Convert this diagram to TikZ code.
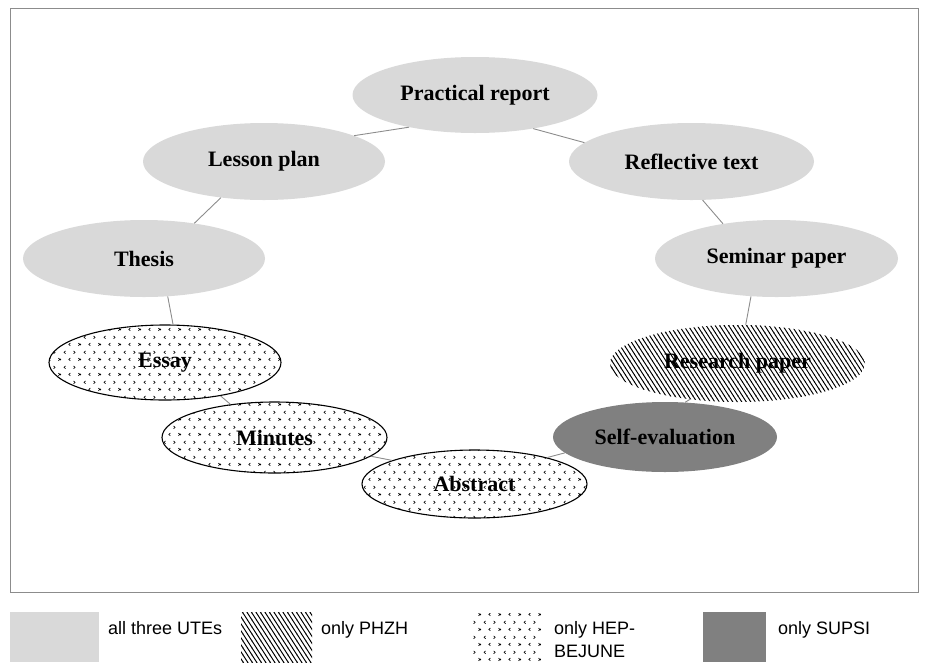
\documentclass[tikz,border=0pt]{standalone}
\usepackage{fontspec}
\setmainfont{Liberation Serif}
\newfontfamily\legfont{Liberation Sans}
\usetikzlibrary{shapes.geometric,patterns}

\definecolor{lightgr}{HTML}{D9D9D9}
\definecolor{darkgr}{HTML}{808080}
\definecolor{linegr}{HTML}{8C8C8C}

% steep hatching for PHZH
\pgfdeclarepatternformonly{steephatch}{\pgfqpoint{-1pt}{-1pt}}{\pgfqpoint{5.5pt}{8pt}}{\pgfqpoint{4.5pt}{7pt}}{%
  \pgfsetlinewidth{0.95pt}
  \pgfpathmoveto{\pgfqpoint{-0.3pt}{7.47pt}}
  \pgfpathlineto{\pgfqpoint{4.8pt}{-0.47pt}}
  \pgfusepath{stroke}}
% small chevrons for HEP-BEJUNE
\pgfdeclarepatternformonly{chevrons}{\pgfqpoint{0pt}{0pt}}{\pgfqpoint{20pt}{15pt}}{\pgfqpoint{20pt}{15pt}}{%
  \pgfsetlinewidth{0.65pt}
  % upper row: < and >
  \pgfpathmoveto{\pgfqpoint{5.8pt}{12.7pt}}
  \pgfpathlineto{\pgfqpoint{4.2pt}{11.25pt}}
  \pgfpathlineto{\pgfqpoint{5.8pt}{9.8pt}}
  \pgfpathmoveto{\pgfqpoint{14.2pt}{12.7pt}}
  \pgfpathlineto{\pgfqpoint{15.8pt}{11.25pt}}
  \pgfpathlineto{\pgfqpoint{14.2pt}{9.8pt}}
  % lower row: > and <
  \pgfpathmoveto{\pgfqpoint{-0.8pt}{5.2pt}}
  \pgfpathlineto{\pgfqpoint{0.8pt}{3.75pt}}
  \pgfpathlineto{\pgfqpoint{-0.8pt}{2.3pt}}
  \pgfpathmoveto{\pgfqpoint{19.2pt}{5.2pt}}
  \pgfpathlineto{\pgfqpoint{20.8pt}{3.75pt}}
  \pgfpathlineto{\pgfqpoint{19.2pt}{2.3pt}}
  \pgfpathmoveto{\pgfqpoint{10.8pt}{5.2pt}}
  \pgfpathlineto{\pgfqpoint{9.2pt}{3.75pt}}
  \pgfpathlineto{\pgfqpoint{10.8pt}{2.3pt}}
  \pgfusepath{stroke}}

\begin{document}
\begin{tikzpicture}[x=1pt, y=-1pt, every node/.style={font=\fontsize{22}{25}\selectfont\bfseries}]
  \tikzstyle{genre}=[ellipse, inner sep=0pt]
  \tikzstyle{allthree}=[genre, fill=lightgr]
  \tikzstyle{phzh}=[genre, pattern=steephatch]
  \tikzstyle{hep}=[genre, draw=black, line width=1.1pt, pattern=chevrons]
  \tikzstyle{supsi}=[genre, fill=darkgr]
  \tikzstyle{link}=[draw=linegr, line width=0.9pt]
  \tikzstyle{legtext}=[anchor=base west, inner sep=0pt, align=left,
    font=\legfont\fontsize{18}{23}\selectfont]
  \useasboundingbox (0,0) rectangle (926,662);
  \draw[linegr, line width=1pt] (10,8) rectangle (918,592);
  \node[allthree, minimum width=245pt, minimum height=76pt] (practical)  at (475,95)    {Practical report};
  \node[allthree, minimum width=242pt, minimum height=77pt] (lesson)     at (264,161.5) {Lesson plan};
  \node[allthree, minimum width=245pt, minimum height=77pt] (reflective) at (691.5,161.5) {Reflective text};
  \node[allthree, minimum width=242pt, minimum height=77pt] (thesis)     at (144,258.5) {Thesis};
  \node[allthree, minimum width=243pt, minimum height=77pt] (seminar)    at (776.5,258.5) {Seminar paper};
  \node[hep,      minimum width=232pt, minimum height=75pt] (essay)      at (165,362.5) {Essay};
  \node[phzh,     minimum width=255pt, minimum height=77pt] (research)   at (737.5,363.5) {Research paper};
  \node[hep,      minimum width=225pt, minimum height=71pt] (minutes)    at (274.5,437.5) {Minutes};
  \node[supsi,    minimum width=224pt, minimum height=70pt] (selfeval)   at (665,437)   {Self-evaluation};
  \node[hep,      minimum width=225pt, minimum height=68pt] (abstract)   at (474.5,484) {Abstract};
  \draw[link] (practical.206) -- (lesson.16);
  \draw[link] (practical.-30) -- (reflective.170);
  \draw[link] (lesson.-140) -- (thesis.35);
  \draw[link] (reflective.-74) -- (seminar.147);
  \draw[link] (thesis.-58) -- (essay.78);
  \draw[link] (seminar.-124) -- (research.78);
  \draw[link] (essay.-31) -- (minutes.143);
  \draw[link] (research.-143) -- (selfeval.60);
  \draw[link] (minutes.-11) -- (abstract.164);
  \draw[link] (abstract.20) -- (selfeval.189);
  % legend
  \fill[lightgr] (10,612) rectangle (99,662);
  \fill[pattern=steephatch] (241,612) rectangle (312,662);
  \fill[pattern=chevrons] (471,613) rectangle (541,662);
  \fill[darkgr] (703,612) rectangle (766,662);
  \node[legtext] (legall)   at (108,634) {all three UTEs};
  \node[legtext] (legphzh)  at (321,634) {only PHZH};
  \node[legtext] (leghep)   at (554,657) {only HEP-\\BEJUNE};
  \node[legtext] (legsupsi) at (778,634) {only SUPSI};
\end{tikzpicture}
\end{document}
